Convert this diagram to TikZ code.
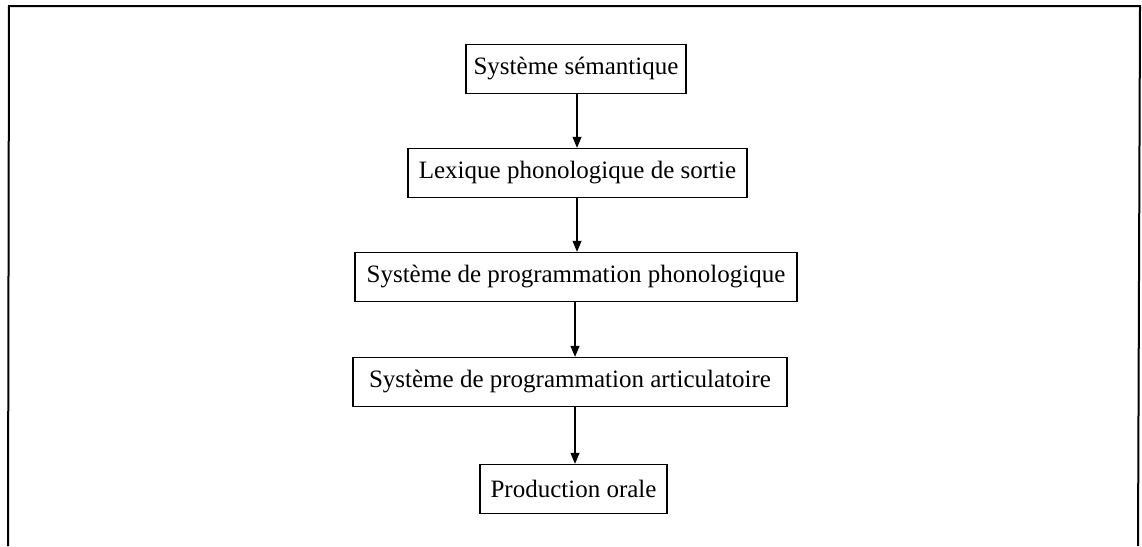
\documentclass[tikz,border=0pt]{standalone}
\usepackage{fontspec}
\setmainfont{Liberation Serif}
\usetikzlibrary{arrows.meta}
\begin{document}
\begin{tikzpicture}[x=1pt,y=-1pt,
  stagebox/.style={draw, line width=1.4pt, minimum height=49pt, inner sep=0pt,
    font=\fontsize{25}{28}\selectfont},
  flow/.style={line width=1.1pt, -{Triangle[length=11pt,width=9pt]}},
  frame/.style={line width=2pt}]
  \useasboundingbox (0,0) rectangle (1142,546);
  % open frame around the diagram
  \coordinate (fbl) at (8,546);
  \coordinate (ftl) at (9,6);
  \coordinate (ftr) at (1140,6);
  \coordinate (fbr) at (1138,546);
  \draw[frame] (fbl) -- (ftl) -- (ftr) -- (fbr);
  % processing stages
  \node[stagebox, minimum width=220pt] (sem) at (576,69) {Système sémantique};
  \node[stagebox, minimum width=339pt] (lex) at (577.5,173) {Lexique phonologique de sortie};
  \node[stagebox, minimum width=442pt] (phon) at (576,277) {Système de programmation phonologique};
  \node[stagebox, minimum width=434pt] (art) at (570,382) {Système de programmation articulatoire};
  \node[stagebox, minimum width=187pt] (prod) at (573.5,489) {Production orale};
  % connectors
  \coordinate (a1) at (577,0);
  \draw[flow] (sem.south -| a1) -- (lex.north -| a1);
  \draw[flow] (lex.south -| a1) -- (phon.north -| a1);
  \coordinate (a2) at (575,0);
  \draw[flow] (phon.south -| a2) -- (art.north -| a2);
  \draw[flow] (art.south -| a2) -- (prod.north -| a2);
\end{tikzpicture}
\end{document}
